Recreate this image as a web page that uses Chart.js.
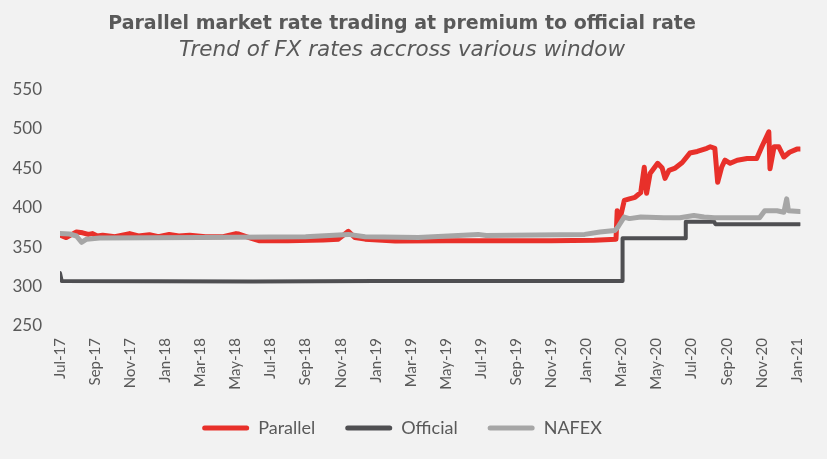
<!DOCTYPE html>
<html>
<head>
<meta charset="utf-8">
<script src="https://cdn.jsdelivr.net/npm/chart.js@4.4.1/dist/chart.umd.min.js"></script>
<style>
  html, body { margin: 0; padding: 0; background: #f2f2f2; }
  #wrap { width: 827px; height: 459px; }
</style>
</head>
<body>
<div id="wrap"><canvas id="grafico"></canvas></div>
<script>
// Rótulos do eixo X (a cada 2 meses)
const tickLabels = ['Jul-17', 'Sep-17', 'Nov-17', 'Jan-18', 'Mar-18', 'May-18', 'Jul-18', 'Sep-18',
  'Nov-18', 'Jan-19', 'Mar-19', 'May-19', 'Jul-19', 'Sep-19', 'Nov-19', 'Jan-20', 'Mar-20',
  'May-20', 'Jul-20', 'Sep-20', 'Nov-20', 'Jan-21'];

// Parallel
const parallelDates = ['2017-07-01', '2017-07-12', '2017-07-22', '2017-07-30', '2017-08-10', '2017-08-20',
  '2017-08-27', '2017-09-05', '2017-09-14', '2017-10-05', '2017-10-31', '2017-11-15', '2017-12-04',
  '2017-12-20', '2018-01-08', '2018-01-25', '2018-02-12', '2018-03-10', '2018-04-10', '2018-05-02',
  '2018-05-07', '2018-05-25', '2018-06-11', '2018-08-01', '2018-10-01', '2018-10-28', '2018-11-14',
  '2018-11-25', '2018-12-13', '2019-02-04', '2019-05-01', '2019-08-01', '2019-11-01', '2020-01-15',
  '2020-02-21', '2020-02-23', '2020-02-26', '2020-02-29', '2020-03-06', '2020-03-15', '2020-03-25',
  '2020-04-04', '2020-04-10', '2020-04-14', '2020-04-20', '2020-05-03', '2020-05-11', '2020-05-16',
  '2020-05-23', '2020-06-03', '2020-06-15', '2020-06-28', '2020-07-11', '2020-07-28', '2020-08-03',
  '2020-08-11', '2020-08-16', '2020-08-23', '2020-08-29', '2020-09-07', '2020-09-19', '2020-10-06',
  '2020-10-23', '2020-11-01', '2020-11-06', '2020-11-13', '2020-11-15', '2020-11-22', '2020-11-30',
  '2020-12-09', '2020-12-19', '2021-01-01', '2021-01-06'];
const parallelRates = [365, 362, 366, 369, 368, 366, 367, 364, 365, 363, 367, 364, 365.5,
  363, 366, 364, 365, 363, 363, 367,
  366.5, 362, 358, 358, 359, 360, 370,
  362, 360, 357.5, 358, 358, 358, 358.5,
  360, 396, 384, 390, 409, 411, 413,
  419, 451, 418, 443, 456, 450, 437,
  447, 450, 457, 469, 471, 475, 477,
  475, 432, 451, 460, 456, 460, 462,
  462, 477, 485, 496, 449, 477, 477,
  464, 470, 474, 474];

// Official
const officialDates = ['2017-07-01', '2017-07-04', '2018-06-01', '2019-01-01', '2020-03-02', '2020-03-03',
  '2020-06-20', '2020-06-21', '2020-08-10', '2020-08-12', '2021-01-06'];
const officialRates = [317, 307, 306.5, 307, 307, 361, 361, 382, 382, 379, 379];

// NAFEX
const nafexDates = ['2017-07-01', '2017-07-18', '2017-07-30', '2017-08-08', '2017-08-17', '2017-09-09',
  '2018-03-01', '2018-09-01', '2018-11-14', '2018-12-13', '2019-03-14', '2019-06-26', '2019-07-10',
  '2019-12-29', '2020-01-25', '2020-02-19', '2020-02-24', '2020-03-06', '2020-03-15', '2020-04-04',
  '2020-05-14', '2020-06-11', '2020-07-05', '2020-07-23', '2020-08-10', '2020-10-28', '2020-11-06',
  '2020-11-27', '2020-12-09', '2020-12-14', '2020-12-17', '2021-01-06'];
const nafexRates = [367, 366.5, 364, 356, 360, 361.5,
  362, 363, 366, 363, 362, 366, 364.5,
  366, 369, 371, 375, 388, 386, 388,
  387, 387, 390, 388, 387, 387, 396,
  396, 394, 411, 396, 395];

// Data -> meses desde Jul-17
const mesesDesde = (d) => {
  const [a, m, dia] = d.split('-').map(Number);
  const diasNoMes = new Date(a, m, 0).getDate();
  return (a - 2017) * 12 + (m - 7) + (dia - 1) / diasNoMes;
};
const pontos = (datas, valores) => datas.map((d, i) => ({ x: mesesDesde(d), y: valores[i] }));

const fonte = 'Lato, "Open Sans", sans-serif';
const fonteTitulo = '"DejaVu Sans", sans-serif';
const cinzaTexto = '#595959';

const ctx = document.getElementById('grafico').getContext('2d');
new Chart(ctx, {
  type: 'line',
  data: {
    datasets: [
      { label: 'Parallel', data: pontos(parallelDates, parallelRates), borderColor: '#e8302a', backgroundColor: '#e8302a', borderWidth: 5, order: 2 },
      { label: 'Official', data: pontos(officialDates, officialRates), borderColor: '#4f4f52', backgroundColor: '#4f4f52', borderWidth: 4, order: 1 },
      { label: 'NAFEX', data: pontos(nafexDates, nafexRates), borderColor: '#a6a6a6', backgroundColor: '#a6a6a6', borderWidth: 5, order: 0 }
    ]
  },
  options: {
    responsive: true,
    maintainAspectRatio: false,
    animation: false,
    parsing: false,
    elements: {
      point: { radius: 0 },
      line: { tension: 0, borderJoinStyle: 'round', borderCapStyle: 'round' }
    },
    layout: { padding: { left: 0, right: 23, top: 0, bottom: 12 } },
    plugins: {
      title: {
        display: true,
        text: 'Parallel market rate trading at premium to official rate',
        color: cinzaTexto,
        font: { family: fonteTitulo, size: 19, weight: 'bold', lineHeight: 1.2 },
        padding: { top: 12.5, bottom: 2 }
      },
      subtitle: {
        display: true,
        text: 'Trend of FX rates accross various window',
        color: cinzaTexto,
        font: { family: fonteTitulo, size: 21.5, style: 'italic', weight: '300', lineHeight: 1.2 },
        padding: { top: 0, bottom: 26 }
      },
      legend: {
        position: 'bottom',
        labels: {
          color: cinzaTexto,
          font: { family: fonte, size: 18 },
          boxWidth: 47,
          boxHeight: 5,
          padding: 30,
          useBorderRadius: true,
          borderRadius: 2.5,
          sort: (a, b) => a.datasetIndex - b.datasetIndex,
          generateLabels: (chart) => Chart.defaults.plugins.legend.labels.generateLabels(chart)
            .map((item) => ({ ...item, lineWidth: 0 }))
        }
      },
      tooltip: { enabled: false }
    },
    scales: {
      x: {
        type: 'linear',
        min: 0,
        max: 42.2,
        grid: { display: false, drawTicks: false },
        border: { display: false },
        afterBuildTicks: (scale) => { scale.ticks = tickLabels.map((t, i) => ({ value: i * 2 })); },
        afterFit: (scale) => { scale.height = 63; },
        ticks: {
          autoSkip: false,
          minRotation: 90,
          maxRotation: 90,
          padding: 12,
          color: cinzaTexto,
          font: { family: fonte, size: 15 },
          callback: (v, i) => tickLabels[i]
        }
      },
      y: {
        min: 250,
        max: 550,
        grid: { display: false, drawTicks: false },
        border: { display: false },
        afterFit: (scale) => { scale.width = 60; },
        ticks: {
          stepSize: 50,
          padding: 18,
          color: cinzaTexto,
          font: { family: fonte, size: 17 }
        }
      }
    }
  }
});
</script>
</body>
</html>
